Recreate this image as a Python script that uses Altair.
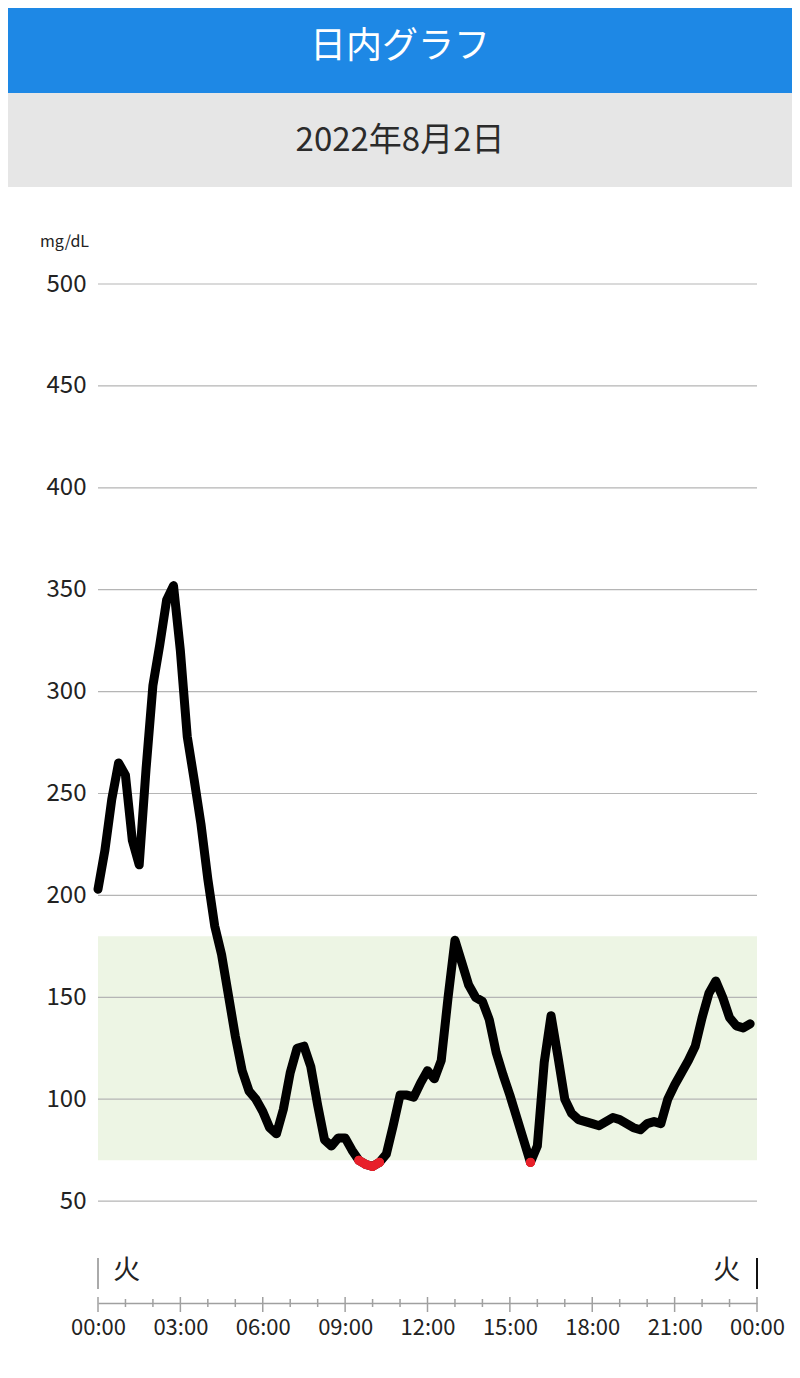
import altair as alt
import pandas as pd

# ---------------- data ----------------
times = [
    "00:00", "00:15", "00:30", "00:45", "01:00", "01:15", "01:30", "01:45",
    "02:00", "02:15", "02:30", "02:45", "03:00", "03:15", "03:30", "03:45",
    "04:00", "04:15", "04:30", "04:45", "05:00", "05:15", "05:30", "05:45",
    "06:00", "06:15", "06:30", "06:45", "07:00", "07:15", "07:30", "07:45",
    "08:00", "08:15", "08:30", "08:45", "09:00", "09:15", "09:30", "09:45",
    "10:00", "10:15", "10:30", "10:45", "11:00", "11:15", "11:30", "11:45",
    "12:00", "12:15", "12:30", "12:45", "13:00", "13:15", "13:30", "13:45",
    "14:00", "14:15", "14:30", "14:45", "15:00", "15:15", "15:30", "15:45",
    "16:00", "16:15", "16:30", "16:45", "17:00", "17:15", "17:30", "17:45",
    "18:00", "18:15", "18:30", "18:45", "19:00", "19:15", "19:30", "19:45",
    "20:00", "20:15", "20:30", "20:45", "21:00", "21:15", "21:30", "21:45",
    "22:00", "22:15", "22:30", "22:45", "23:00", "23:15", "23:30", "23:45",
]
glucose = [
    203, 222, 247, 265, 259, 227, 215, 262, 303, 323,
    345, 352, 320, 278, 257, 235, 208, 185, 171, 151,
    131, 114, 104, 100, 94, 86, 83, 95, 113, 125,
    126, 116, 97, 80, 77, 81, 81, 75, 70, 68,
    67, 69, 73, 87, 102, 102, 101, 108, 114, 110,
    119, 150, 178, 167, 156, 150, 148, 139, 123, 112,
    102, 91, 80, 69, 77, 118, 141, 121, 100, 93,
    90, 89, 88, 87, 89, 91, 90, 88, 86, 85,
    88, 89, 88, 100, 107, 113, 119, 126, 140, 152,
    158, 150, 140, 136, 135, 137,
]
y_ticks = [50, 100, 150, 200, 250, 300, 350, 400, 450, 500]
x_major = [0, 3, 6, 9, 12, 15, 18, 21, 24]
x_minor = [1, 2, 4, 5, 7, 8, 10, 11, 13, 14, 16, 17, 19, 20, 22, 23]
target_low = 70
target_high = 180
low_limit = 70
day_hours = [0, 24]
weekday_labels = ["火", "火"]
weekday_hours = [1.05, 22.9]
title_text = "日内グラフ"
date_text = "2022年8月2日"
unit_text = "mg/dL"

# ---------------- tables ----------------
hours = [int(t[:2]) + int(t[3:]) / 60 for t in times]
df = pd.DataFrame({"hour": hours, "value": glucose})

seg_ids = []
seg = 0
prev_low = False
for v in glucose:
    is_low = v <= low_limit
    if is_low and not prev_low:
        seg += 1
    seg_ids.append(seg if is_low else 0)
    prev_low = is_low
df["seg"] = seg_ids
df_low = df[df["seg"] > 0]

df_one = pd.DataFrame({"k": [0]})
df_band = pd.DataFrame({"lo": [target_low], "hi": [target_high]})
df_grid = pd.DataFrame({"v": y_ticks})
df_major = pd.DataFrame({"h": x_major})
df_minor = pd.DataFrame({"h": x_minor})
df_week = pd.DataFrame({"h": weekday_hours, "t": weekday_labels})
df_day = pd.DataFrame({"h": day_hours, "c": ["#aaaaaa", "#111111"]})

W, H = 659, 1019
FONT = "Noto Sans CJK JP"

xscale = alt.Scale(domain=[0, 24], nice=False, zero=False)
yscale = alt.Scale(domain=[0, 500], nice=False, zero=False)

# header bars
blue = alt.Chart(df_one).mark_rect(color="#1e88e5").encode(
    x=alt.value(-90), x2=alt.value(694), y=alt.value(-276), y2=alt.value(-191)
)
gray = alt.Chart(df_one).mark_rect(color="#e6e6e6").encode(
    x=alt.value(-90), x2=alt.value(694), y=alt.value(-191), y2=alt.value(-97)
)
title = alt.Chart(df_one).mark_text(
    text=title_text, font=FONT, fontSize=36, color="white",
    align="center", baseline="middle"
).encode(x=alt.value(302), y=alt.value(-237))
date = alt.Chart(df_one).mark_text(
    text=date_text, font=FONT, fontSize=33, color="#2b2b2b",
    align="center", baseline="middle"
).encode(x=alt.value(302), y=alt.value(-143))
unit = alt.Chart(df_one).mark_text(
    text=unit_text, font=FONT, fontSize=16, color="#222222",
    align="left", baseline="middle"
).encode(x=alt.value(-58), y=alt.value(-42))

band = alt.Chart(df_band).mark_rect(color="#edf5e4").encode(
    y=alt.Y("lo:Q", scale=yscale),
    y2="hi:Q",
    x=alt.value(0), x2=alt.value(W),
)
grid = alt.Chart(df_grid).mark_rule(color="#b5b5b5", strokeWidth=1.2).encode(
    y=alt.Y("v:Q", scale=yscale), x=alt.value(0), x2=alt.value(W)
)

line = alt.Chart(df).mark_line(
    color="black", strokeWidth=9, strokeJoin="round", strokeCap="round"
).encode(
    x=alt.X("hour:Q", scale=xscale, axis=alt.Axis(
        values=x_major, title=None, ticks=False, grid=False,
        domain=True, domainColor="#a0a0a0", domainWidth=1.5,
        labelFont=FONT, labelFontSize=22, labelColor="#222222",
        labelPadding=14, labelOverlap=False, labelFlush=False,
        labelExpr="(datum.value % 24 < 10 ? '0' : '') + (datum.value % 24) + ':00'",
    )),
    y=alt.Y("value:Q", scale=yscale, axis=alt.Axis(
        values=y_ticks, title=None, ticks=False, grid=False, domain=False,
        labelFont=FONT, labelFontSize=24, labelColor="#222222", labelPadding=12,
        labelOverlap=False,
    )),
)

red_line = alt.Chart(df_low).mark_line(
    color="#e8202a", strokeWidth=9, strokeJoin="round", strokeCap="round"
).encode(
    x=alt.X("hour:Q", scale=xscale), y=alt.Y("value:Q", scale=yscale), detail="seg:N"
)
red_dot = alt.Chart(df_low).mark_circle(color="#e8202a", size=85, opacity=1).encode(
    x=alt.X("hour:Q", scale=xscale), y=alt.Y("value:Q", scale=yscale)
)

major_ticks = alt.Chart(df_major).mark_rule(color="#a0a0a0", strokeWidth=1.5).encode(
    x=alt.X("h:Q", scale=xscale), y=alt.value(H - 6), y2=alt.value(H + 9)
)
minor_ticks = alt.Chart(df_minor).mark_rule(color="#a0a0a0", strokeWidth=1.5).encode(
    x=alt.X("h:Q", scale=xscale), y=alt.value(H - 4), y2=alt.value(H + 4)
)

day_bars = alt.Chart(df_day).mark_rule(strokeWidth=2).encode(
    x=alt.X("h:Q", scale=xscale), y=alt.value(H - 45), y2=alt.value(H - 14),
    color=alt.Color("c:N", scale=None),
)
week = alt.Chart(df_week).mark_text(
    font=FONT, fontSize=27, color="#222222", align="center", baseline="middle"
).encode(x=alt.X("h:Q", scale=xscale), y=alt.value(H - 32), text="t:N")

chart = alt.layer(
    blue, gray, title, date, unit,
    band, grid, line, red_line, red_dot,
    major_ticks, minor_ticks, day_bars, week,
).properties(
    width=W, height=H,
    padding={"left": 0, "top": 0, "right": 0, "bottom": 24},
    background="white",
).configure_view(stroke=None)

chart.save("out.html", embed_options={"renderer": "svg", "actions": False})
